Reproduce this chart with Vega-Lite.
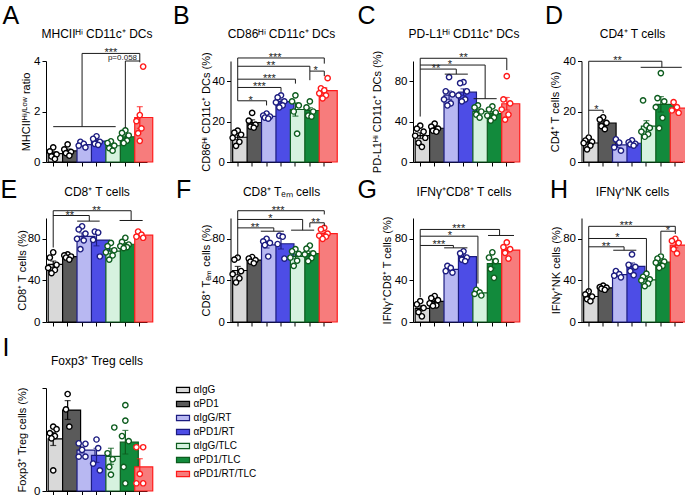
{
"$schema": "https://vega.github.io/schema/vega-lite/v6.json",
"background": "white",
"padding": {"left": 0, "top": 3, "right": 0, "bottom": 0},
"bounds": "flush",
"columns": 4,
"spacing": {"row": 56, "column": 67.5},
"resolve": {"scale": {"fill": "independent", "stroke": "independent", "color": "independent", "xOffset": "independent"}},
"datasets": {
"pts": [
{"p":"A","g":"αIgG","v":0.58,"r":4},{"p":"A","g":"αIgG","v":0.42,"r":2},{"p":"A","g":"αIgG","v":0.30,"r":6},{"p":"A","g":"αIgG","v":0.22,"r":3},{"p":"A","g":"αIgG","v":0.12,"r":5},
{"p":"A","g":"αPD1","v":0.70,"r":4},{"p":"A","g":"αPD1","v":0.50,"r":2},{"p":"A","g":"αPD1","v":0.40,"r":6},{"p":"A","g":"αPD1","v":0.35,"r":3},{"p":"A","g":"αPD1","v":0.25,"r":5},
{"p":"A","g":"αIgG/RT","v":0.80,"r":3},{"p":"A","g":"αIgG/RT","v":0.72,"r":5},{"p":"A","g":"αIgG/RT","v":0.65,"r":2},{"p":"A","g":"αIgG/RT","v":0.58,"r":6},
{"p":"A","g":"αPD1/RT","v":1.02,"r":4},{"p":"A","g":"αPD1/RT","v":0.92,"r":2},{"p":"A","g":"αPD1/RT","v":0.80,"r":6},{"p":"A","g":"αPD1/RT","v":0.72,"r":3},{"p":"A","g":"αPD1/RT","v":0.68,"r":5},
{"p":"A","g":"αIgG/TLC","v":0.82,"r":4},{"p":"A","g":"αIgG/TLC","v":0.75,"r":2},{"p":"A","g":"αIgG/TLC","v":0.65,"r":6},{"p":"A","g":"αIgG/TLC","v":0.55,"r":3},{"p":"A","g":"αIgG/TLC","v":0.45,"r":5},
{"p":"A","g":"αPD1/TLC","v":1.25,"r":4},{"p":"A","g":"αPD1/TLC","v":1.15,"r":2},{"p":"A","g":"αPD1/TLC","v":1.05,"r":6},{"p":"A","g":"αPD1/TLC","v":0.95,"r":1},{"p":"A","g":"αPD1/TLC","v":0.85,"r":5},{"p":"A","g":"αPD1/TLC","v":0.75,"r":3},
{"p":"A","g":"αPD1/RT/TLC","v":3.78,"r":6},{"p":"A","g":"αPD1/RT/TLC","v":1.86,"r":4},{"p":"A","g":"αPD1/RT/TLC","v":1.62,"r":2},{"p":"A","g":"αPD1/RT/TLC","v":1.33,"r":5},{"p":"A","g":"αPD1/RT/TLC","v":1.14,"r":3},{"p":"A","g":"αPD1/RT/TLC","v":0.84,"r":4},
{"p":"B","g":"αIgG","v":15.5,"r":4},{"p":"B","g":"αIgG","v":14.5,"r":2},{"p":"B","g":"αIgG","v":13.5,"r":6},{"p":"B","g":"αIgG","v":12,"r":1},{"p":"B","g":"αIgG","v":10,"r":5},{"p":"B","g":"αIgG","v":8,"r":3},
{"p":"B","g":"αPD1","v":24.3,"r":4},{"p":"B","g":"αPD1","v":20.5,"r":2},{"p":"B","g":"αPD1","v":18.5,"r":6},{"p":"B","g":"αPD1","v":17.5,"r":3},{"p":"B","g":"αPD1","v":17,"r":5},
{"p":"B","g":"αIgG/RT","v":24,"r":4},{"p":"B","g":"αIgG/RT","v":23,"r":2},{"p":"B","g":"αIgG/RT","v":22.5,"r":6},{"p":"B","g":"αIgG/RT","v":22,"r":3},{"p":"B","g":"αIgG/RT","v":21.5,"r":5},
{"p":"B","g":"αPD1/RT","v":33,"r":4},{"p":"B","g":"αPD1/RT","v":32,"r":2},{"p":"B","g":"αPD1/RT","v":30,"r":6},{"p":"B","g":"αPD1/RT","v":29.5,"r":1},{"p":"B","g":"αPD1/RT","v":28,"r":5},{"p":"B","g":"αPD1/RT","v":27,"r":3},
{"p":"B","g":"αIgG/TLC","v":33,"r":4},{"p":"B","g":"αIgG/TLC","v":30,"r":2},{"p":"B","g":"αIgG/TLC","v":28,"r":6},{"p":"B","g":"αIgG/TLC","v":25,"r":3},{"p":"B","g":"αIgG/TLC","v":14,"r":5},
{"p":"B","g":"αPD1/TLC","v":30,"r":4},{"p":"B","g":"αPD1/TLC","v":27,"r":2},{"p":"B","g":"αPD1/TLC","v":25,"r":6},{"p":"B","g":"αPD1/TLC","v":23,"r":3},{"p":"B","g":"αPD1/TLC","v":22.5,"r":5},
{"p":"B","g":"αPD1/RT/TLC","v":41.5,"r":6},{"p":"B","g":"αPD1/RT/TLC","v":36.5,"r":2},{"p":"B","g":"αPD1/RT/TLC","v":35.5,"r":4},{"p":"B","g":"αPD1/RT/TLC","v":34,"r":1},{"p":"B","g":"αPD1/RT/TLC","v":33,"r":5},{"p":"B","g":"αPD1/RT/TLC","v":31.5,"r":3},
{"p":"C","g":"αIgG","v":36,"r":4},{"p":"C","g":"αIgG","v":33,"r":2},{"p":"C","g":"αIgG","v":30,"r":6},{"p":"C","g":"αIgG","v":26,"r":1},{"p":"C","g":"αIgG","v":24,"r":7},{"p":"C","g":"αIgG","v":19,"r":3},{"p":"C","g":"αIgG","v":15,"r":5},
{"p":"C","g":"αPD1","v":38,"r":4},{"p":"C","g":"αPD1","v":35,"r":2},{"p":"C","g":"αPD1","v":33,"r":6},{"p":"C","g":"αPD1","v":31,"r":3},{"p":"C","g":"αPD1","v":30,"r":5},
{"p":"C","g":"αIgG/RT","v":84,"r":4},{"p":"C","g":"αIgG/RT","v":70,"r":2},{"p":"C","g":"αIgG/RT","v":67,"r":6},{"p":"C","g":"αIgG/RT","v":62,"r":1},{"p":"C","g":"αIgG/RT","v":58,"r":5},{"p":"C","g":"αIgG/RT","v":56,"r":3},
{"p":"C","g":"αPD1/RT","v":79,"r":4},{"p":"C","g":"αPD1/RT","v":78,"r":2},{"p":"C","g":"αPD1/RT","v":70,"r":6},{"p":"C","g":"αPD1/RT","v":66,"r":1},{"p":"C","g":"αPD1/RT","v":62,"r":5},{"p":"C","g":"αPD1/RT","v":60,"r":3},
{"p":"C","g":"αIgG/TLC","v":56,"r":4},{"p":"C","g":"αIgG/TLC","v":54,"r":2},{"p":"C","g":"αIgG/TLC","v":50,"r":6},{"p":"C","g":"αIgG/TLC","v":47,"r":3},{"p":"C","g":"αIgG/TLC","v":44,"r":5},
{"p":"C","g":"αPD1/TLC","v":55,"r":4},{"p":"C","g":"αPD1/TLC","v":52,"r":2},{"p":"C","g":"αPD1/TLC","v":49,"r":6},{"p":"C","g":"αPD1/TLC","v":46,"r":1},{"p":"C","g":"αPD1/TLC","v":44,"r":5},{"p":"C","g":"αPD1/TLC","v":41,"r":3},
{"p":"C","g":"αPD1/RT/TLC","v":85,"r":4},{"p":"C","g":"αPD1/RT/TLC","v":62,"r":2},{"p":"C","g":"αPD1/RT/TLC","v":58,"r":6},{"p":"C","g":"αPD1/RT/TLC","v":52,"r":1},{"p":"C","g":"αPD1/RT/TLC","v":47,"r":5},{"p":"C","g":"αPD1/RT/TLC","v":42,"r":3},
{"p":"D","g":"αIgG","v":9.7,"r":4},{"p":"D","g":"αIgG","v":8.5,"r":2},{"p":"D","g":"αIgG","v":8,"r":6},{"p":"D","g":"αIgG","v":7.5,"r":1},{"p":"D","g":"αIgG","v":6.5,"r":5},{"p":"D","g":"αIgG","v":5,"r":3},
{"p":"D","g":"αPD1","v":17.7,"r":4},{"p":"D","g":"αPD1","v":16.8,"r":2},{"p":"D","g":"αPD1","v":15.5,"r":6},{"p":"D","g":"αPD1","v":14.2,"r":3},{"p":"D","g":"αPD1","v":13,"r":5},
{"p":"D","g":"αIgG/RT","v":9,"r":3},{"p":"D","g":"αIgG/RT","v":7.7,"r":5},{"p":"D","g":"αIgG/RT","v":5.8,"r":2},{"p":"D","g":"αIgG/RT","v":4.5,"r":6},
{"p":"D","g":"αPD1/RT","v":8.6,"r":4},{"p":"D","g":"αPD1/RT","v":7.8,"r":2},{"p":"D","g":"αPD1/RT","v":7.2,"r":6},{"p":"D","g":"αPD1/RT","v":7,"r":3},{"p":"D","g":"αPD1/RT","v":6.5,"r":5},
{"p":"D","g":"αIgG/TLC","v":24.4,"r":2},{"p":"D","g":"αIgG/TLC","v":14.5,"r":4},{"p":"D","g":"αIgG/TLC","v":13.5,"r":6},{"p":"D","g":"αIgG/TLC","v":12,"r":1},{"p":"D","g":"αIgG/TLC","v":11,"r":5},{"p":"D","g":"αIgG/TLC","v":10,"r":3},
{"p":"D","g":"αPD1/TLC","v":35.2,"r":4},{"p":"D","g":"αPD1/TLC","v":25.3,"r":2},{"p":"D","g":"αPD1/TLC","v":24,"r":6},{"p":"D","g":"αPD1/TLC","v":21.7,"r":1},{"p":"D","g":"αPD1/TLC","v":17.5,"r":5},{"p":"D","g":"αPD1/TLC","v":13.4,"r":3},
{"p":"D","g":"αPD1/RT/TLC","v":23.7,"r":3},{"p":"D","g":"αPD1/RT/TLC","v":21.7,"r":5},{"p":"D","g":"αPD1/RT/TLC","v":20.4,"r":2},{"p":"D","g":"αPD1/RT/TLC","v":19.5,"r":6},
{"p":"E","g":"αIgG","v":67,"r":4},{"p":"E","g":"αIgG","v":62,"r":2},{"p":"E","g":"αIgG","v":55,"r":6},{"p":"E","g":"αIgG","v":52,"r":1},{"p":"E","g":"αIgG","v":50,"r":5},{"p":"E","g":"αIgG","v":47,"r":3},
{"p":"E","g":"αPD1","v":65,"r":4},{"p":"E","g":"αPD1","v":64,"r":2},{"p":"E","g":"αPD1","v":63,"r":6},{"p":"E","g":"αPD1","v":62,"r":3},{"p":"E","g":"αPD1","v":60,"r":5},
{"p":"E","g":"αIgG/RT","v":92,"r":4},{"p":"E","g":"αIgG/RT","v":89,"r":2},{"p":"E","g":"αIgG/RT","v":85,"r":6},{"p":"E","g":"αIgG/RT","v":80,"r":1},{"p":"E","g":"αIgG/RT","v":78.5,"r":5},{"p":"E","g":"αIgG/RT","v":70,"r":3},
{"p":"E","g":"αPD1/RT","v":87,"r":3},{"p":"E","g":"αPD1/RT","v":86,"r":5},{"p":"E","g":"αPD1/RT","v":79,"r":2},{"p":"E","g":"αPD1/RT","v":63,"r":6},
{"p":"E","g":"αIgG/TLC","v":76,"r":4},{"p":"E","g":"αIgG/TLC","v":73,"r":2},{"p":"E","g":"αIgG/TLC","v":69,"r":6},{"p":"E","g":"αIgG/TLC","v":67,"r":1},{"p":"E","g":"αIgG/TLC","v":64,"r":5},{"p":"E","g":"αIgG/TLC","v":60,"r":3},
{"p":"E","g":"αPD1/TLC","v":81,"r":4},{"p":"E","g":"αPD1/TLC","v":77,"r":2},{"p":"E","g":"αPD1/TLC","v":74.5,"r":6},{"p":"E","g":"αPD1/TLC","v":73,"r":1},{"p":"E","g":"αPD1/TLC","v":72,"r":5},{"p":"E","g":"αPD1/TLC","v":71,"r":3},
{"p":"E","g":"αPD1/RT/TLC","v":87,"r":3},{"p":"E","g":"αPD1/RT/TLC","v":84,"r":5},{"p":"E","g":"αPD1/RT/TLC","v":82,"r":2},{"p":"E","g":"αPD1/RT/TLC","v":81,"r":6},
{"p":"F","g":"αIgG","v":62,"r":4},{"p":"F","g":"αIgG","v":60,"r":2},{"p":"F","g":"αIgG","v":49,"r":6},{"p":"F","g":"αIgG","v":46,"r":1},{"p":"F","g":"αIgG","v":42,"r":5},{"p":"F","g":"αIgG","v":38,"r":3},
{"p":"F","g":"αPD1","v":62.5,"r":4},{"p":"F","g":"αPD1","v":61,"r":2},{"p":"F","g":"αPD1","v":59.5,"r":6},{"p":"F","g":"αPD1","v":58,"r":3},{"p":"F","g":"αPD1","v":56.5,"r":5},
{"p":"F","g":"αIgG/RT","v":80,"r":4},{"p":"F","g":"αIgG/RT","v":77.5,"r":2},{"p":"F","g":"αIgG/RT","v":76,"r":6},{"p":"F","g":"αIgG/RT","v":74,"r":3},{"p":"F","g":"αIgG/RT","v":63,"r":5},
{"p":"F","g":"αPD1/RT","v":83,"r":3},{"p":"F","g":"αPD1/RT","v":82,"r":5},{"p":"F","g":"αPD1/RT","v":75,"r":2},{"p":"F","g":"αPD1/RT","v":61,"r":6},
{"p":"F","g":"αIgG/TLC","v":70,"r":4},{"p":"F","g":"αIgG/TLC","v":68,"r":2},{"p":"F","g":"αIgG/TLC","v":65.5,"r":6},{"p":"F","g":"αIgG/TLC","v":62,"r":1},{"p":"F","g":"αIgG/TLC","v":59,"r":5},{"p":"F","g":"αIgG/TLC","v":54,"r":3},
{"p":"F","g":"αPD1/TLC","v":73.5,"r":4},{"p":"F","g":"αPD1/TLC","v":70.5,"r":2},{"p":"F","g":"αPD1/TLC","v":66,"r":6},{"p":"F","g":"αPD1/TLC","v":65,"r":1},{"p":"F","g":"αPD1/TLC","v":61.5,"r":5},{"p":"F","g":"αPD1/TLC","v":58.5,"r":3},
{"p":"F","g":"αPD1/RT/TLC","v":90.5,"r":4},{"p":"F","g":"αPD1/RT/TLC","v":89,"r":2},{"p":"F","g":"αPD1/RT/TLC","v":85,"r":6},{"p":"F","g":"αPD1/RT/TLC","v":83,"r":1},{"p":"F","g":"αPD1/RT/TLC","v":82,"r":5},{"p":"F","g":"αPD1/RT/TLC","v":80,"r":3},
{"p":"G","g":"αIgG","v":20,"r":4},{"p":"G","g":"αIgG","v":17,"r":2},{"p":"G","g":"αIgG","v":13.5,"r":6},{"p":"G","g":"αIgG","v":9.5,"r":3},{"p":"G","g":"αIgG","v":5.5,"r":5},
{"p":"G","g":"αPD1","v":25,"r":4},{"p":"G","g":"αPD1","v":23,"r":2},{"p":"G","g":"αPD1","v":21,"r":6},{"p":"G","g":"αPD1","v":18,"r":1},{"p":"G","g":"αPD1","v":16,"r":5},{"p":"G","g":"αPD1","v":15.5,"r":3},
{"p":"G","g":"αIgG/RT","v":54,"r":3},{"p":"G","g":"αIgG/RT","v":52,"r":5},{"p":"G","g":"αIgG/RT","v":49,"r":2},{"p":"G","g":"αIgG/RT","v":47.5,"r":6},
{"p":"G","g":"αPD1/RT","v":68,"r":4},{"p":"G","g":"αPD1/RT","v":66,"r":2},{"p":"G","g":"αPD1/RT","v":62,"r":6},{"p":"G","g":"αPD1/RT","v":60,"r":3},{"p":"G","g":"αPD1/RT","v":58.5,"r":5},
{"p":"G","g":"αIgG/TLC","v":31,"r":3},{"p":"G","g":"αIgG/TLC","v":28.5,"r":5},{"p":"G","g":"αIgG/TLC","v":27,"r":2},{"p":"G","g":"αIgG/TLC","v":25.5,"r":6},
{"p":"G","g":"αPD1/TLC","v":67,"r":4},{"p":"G","g":"αPD1/TLC","v":62,"r":2},{"p":"G","g":"αPD1/TLC","v":58.5,"r":6},{"p":"G","g":"αPD1/TLC","v":51,"r":3},{"p":"G","g":"αPD1/TLC","v":42.5,"r":5},
{"p":"G","g":"αPD1/RT/TLC","v":76.5,"r":4},{"p":"G","g":"αPD1/RT/TLC","v":72,"r":2},{"p":"G","g":"αPD1/RT/TLC","v":70,"r":6},{"p":"G","g":"αPD1/RT/TLC","v":66.5,"r":3},{"p":"G","g":"αPD1/RT/TLC","v":61,"r":5},
{"p":"H","g":"αIgG","v":29.5,"r":4},{"p":"H","g":"αIgG","v":26.5,"r":2},{"p":"H","g":"αIgG","v":24.5,"r":6},{"p":"H","g":"αIgG","v":22,"r":3},{"p":"H","g":"αIgG","v":20,"r":5},
{"p":"H","g":"αPD1","v":35,"r":4},{"p":"H","g":"αPD1","v":33.5,"r":2},{"p":"H","g":"αPD1","v":33,"r":6},{"p":"H","g":"αPD1","v":32,"r":3},{"p":"H","g":"αPD1","v":31,"r":5},
{"p":"H","g":"αIgG/RT","v":49,"r":3},{"p":"H","g":"αIgG/RT","v":46,"r":5},{"p":"H","g":"αIgG/RT","v":44.5,"r":2},{"p":"H","g":"αIgG/RT","v":43,"r":6},
{"p":"H","g":"αPD1/RT","v":65,"r":4},{"p":"H","g":"αPD1/RT","v":55,"r":2},{"p":"H","g":"αPD1/RT","v":53,"r":6},{"p":"H","g":"αPD1/RT","v":49,"r":3},{"p":"H","g":"αPD1/RT","v":45,"r":5},
{"p":"H","g":"αIgG/TLC","v":46.5,"r":4},{"p":"H","g":"αIgG/TLC","v":43.5,"r":2},{"p":"H","g":"αIgG/TLC","v":41,"r":6},{"p":"H","g":"αIgG/TLC","v":40,"r":1},{"p":"H","g":"αIgG/TLC","v":37,"r":5},{"p":"H","g":"αIgG/TLC","v":34.5,"r":3},
{"p":"H","g":"αPD1/TLC","v":63,"r":4},{"p":"H","g":"αPD1/TLC","v":61,"r":2},{"p":"H","g":"αPD1/TLC","v":58,"r":6},{"p":"H","g":"αPD1/TLC","v":57,"r":1},{"p":"H","g":"αPD1/TLC","v":54,"r":5},{"p":"H","g":"αPD1/TLC","v":52,"r":3},
{"p":"H","g":"αPD1/RT/TLC","v":80,"r":4},{"p":"H","g":"αPD1/RT/TLC","v":78,"r":2},{"p":"H","g":"αPD1/RT/TLC","v":76,"r":6},{"p":"H","g":"αPD1/RT/TLC","v":70,"r":3},{"p":"H","g":"αPD1/RT/TLC","v":66,"r":5},
{"p":"I","g":"αIgG","v":3.75,"r":4},{"p":"I","g":"αIgG","v":3.6,"r":6},{"p":"I","g":"αIgG","v":3.37,"r":2},{"p":"I","g":"αIgG","v":3.2,"r":5},{"p":"I","g":"αIgG","v":3.07,"r":3},{"p":"I","g":"αIgG","v":1.2,"r":4},
{"p":"I","g":"αPD1","v":5.65,"r":4},{"p":"I","g":"αPD1","v":4.75,"r":3},{"p":"I","g":"αPD1","v":3.75,"r":5},
{"p":"I","g":"αIgG/RT","v":2.78,"r":2},{"p":"I","g":"αIgG/RT","v":2.75,"r":6},{"p":"I","g":"αIgG/RT","v":2.4,"r":4},{"p":"I","g":"αIgG/RT","v":2.0,"r":2},{"p":"I","g":"αIgG/RT","v":2.0,"r":6},
{"p":"I","g":"αPD1/RT","v":3.0,"r":4},{"p":"I","g":"αPD1/RT","v":2.5,"r":5},{"p":"I","g":"αPD1/RT","v":1.6,"r":2},{"p":"I","g":"αPD1/RT","v":1.2,"r":6},
{"p":"I","g":"αIgG/TLC","v":3.7,"r":6},{"p":"I","g":"αIgG/TLC","v":2.2,"r":2},{"p":"I","g":"αIgG/TLC","v":1.85,"r":5},{"p":"I","g":"αIgG/TLC","v":1.4,"r":3},{"p":"I","g":"αIgG/TLC","v":0.95,"r":4},
{"p":"I","g":"αPD1/TLC","v":5.0,"r":4},{"p":"I","g":"αPD1/TLC","v":4.1,"r":4},{"p":"I","g":"αPD1/TLC","v":3.2,"r":2},{"p":"I","g":"αPD1/TLC","v":2.9,"r":6},{"p":"I","g":"αPD1/TLC","v":1.4,"r":3},{"p":"I","g":"αPD1/TLC","v":0.45,"r":4},
{"p":"I","g":"αPD1/RT/TLC","v":2.55,"r":2},{"p":"I","g":"αPD1/RT/TLC","v":2.55,"r":6},{"p":"I","g":"αPD1/RT/TLC","v":1.0,"r":4},{"p":"I","g":"αPD1/RT/TLC","v":0.45,"r":2},{"p":"I","g":"αPD1/RT/TLC","v":0.45,"r":6}
],
"brk": [
{"p":"A","x1":1,"x2":5.33,"y1":1.4,"y2":1.4},{"p":"A","x1":3,"x2":3,"y1":1.4,"y2":4.3},{"p":"A","x1":3,"x2":7,"y1":4.3,"y2":4.3},{"p":"A","x1":7,"x2":7,"y1":4.3,"y2":3.95},{"p":"A","x1":6,"x2":7,"y1":4.0,"y2":4.0},{"p":"A","x1":6,"x2":6,"y1":4.0,"y2":1.35},
{"p":"B","x1":1,"x2":7,"y1":51.5,"y2":51.5},{"p":"B","x1":7,"x2":7,"y1":51.5,"y2":48.7},{"p":"B","x1":1,"x2":6,"y1":47.4,"y2":47.4},{"p":"B","x1":6,"x2":6,"y1":47.4,"y2":45},{"p":"B","x1":6,"x2":7,"y1":45,"y2":45},{"p":"B","x1":6,"x2":6,"y1":45,"y2":40.5},{"p":"B","x1":7,"x2":7,"y1":45,"y2":42.5},{"p":"B","x1":1,"x2":5,"y1":41,"y2":41},{"p":"B","x1":5,"x2":5,"y1":41,"y2":38.8},{"p":"B","x1":1,"x2":4,"y1":36.9,"y2":36.9},{"p":"B","x1":4,"x2":4,"y1":36.9,"y2":34.7},{"p":"B","x1":1,"x2":3,"y1":30.3,"y2":30.3},{"p":"B","x1":3,"x2":3,"y1":30.3,"y2":28},{"p":"B","x1":1,"x2":1,"y1":51.5,"y2":30.3},
{"p":"C","x1":1,"x2":7,"y1":102.7,"y2":102.7},{"p":"C","x1":7,"x2":7,"y1":102.7,"y2":91},{"p":"C","x1":1,"x2":5.5,"y1":96,"y2":96},{"p":"C","x1":5.5,"x2":5.5,"y1":96,"y2":62.7},{"p":"C","x1":4.7,"x2":6.3,"y1":62.7,"y2":62.7},{"p":"C","x1":1,"x2":3.5,"y1":92,"y2":92},{"p":"C","x1":3.5,"x2":3.5,"y1":92,"y2":87},{"p":"C","x1":2.7,"x2":4.3,"y1":87,"y2":87},{"p":"C","x1":1,"x2":1,"y1":102.7,"y2":45},
{"p":"D","x1":1,"x2":6.07,"y1":39.9,"y2":39.9},{"p":"D","x1":6.07,"x2":6.07,"y1":39.9,"y2":37.5},{"p":"D","x1":4.6,"x2":7.45,"y1":37.5,"y2":37.5},{"p":"D","x1":1,"x2":2,"y1":20.5,"y2":20.5},{"p":"D","x1":2,"x2":2,"y1":20.5,"y2":19.4},{"p":"D","x1":1,"x2":1,"y1":39.9,"y2":11},
{"p":"E","x1":1,"x2":6.4,"y1":107,"y2":107},{"p":"E","x1":6.4,"x2":6.4,"y1":107,"y2":97.6},{"p":"E","x1":5.6,"x2":7.2,"y1":97.6,"y2":97.6},{"p":"E","x1":1,"x2":3.5,"y1":102.4,"y2":102.4},{"p":"E","x1":3.5,"x2":3.5,"y1":102.4,"y2":97},{"p":"E","x1":2.66,"x2":4.22,"y1":97,"y2":97},{"p":"E","x1":1,"x2":1,"y1":107,"y2":71.6},
{"p":"F","x1":1,"x2":7,"y1":107,"y2":107},{"p":"F","x1":7,"x2":7,"y1":107,"y2":103.4},{"p":"F","x1":1,"x2":5.5,"y1":98.6,"y2":98.6},{"p":"F","x1":5.5,"x2":5.5,"y1":98.6,"y2":88.3},{"p":"F","x1":4.7,"x2":6.3,"y1":88.3,"y2":88.3},{"p":"F","x1":6,"x2":7,"y1":95.4,"y2":95.4},{"p":"F","x1":6,"x2":6,"y1":95.4,"y2":91},{"p":"F","x1":7,"x2":7,"y1":95.4,"y2":92},{"p":"F","x1":1,"x2":3.5,"y1":90.5,"y2":90.5},{"p":"F","x1":3.5,"x2":3.5,"y1":90.5,"y2":87.3},{"p":"F","x1":2.6,"x2":4.2,"y1":87.3,"y2":87.3},{"p":"F","x1":1,"x2":1,"y1":107,"y2":63},
{"p":"G","x1":1,"x2":6.5,"y1":89,"y2":89},{"p":"G","x1":6.5,"x2":6.5,"y1":89,"y2":83.2},{"p":"G","x1":5.7,"x2":7.5,"y1":83.2,"y2":83.2},{"p":"G","x1":1,"x2":5,"y1":82.5,"y2":82.5},{"p":"G","x1":5,"x2":5,"y1":82.5,"y2":37},{"p":"G","x1":1,"x2":3.3,"y1":73.6,"y2":73.6},{"p":"G","x1":3.3,"x2":3.3,"y1":73.6,"y2":71.3},{"p":"G","x1":2.66,"x2":4.27,"y1":71.3,"y2":71.3},{"p":"G","x1":1,"x2":1,"y1":89,"y2":24},
{"p":"H","x1":1,"x2":7,"y1":92,"y2":92},{"p":"H","x1":7,"x2":7,"y1":92,"y2":87.3},{"p":"H","x1":6,"x2":7,"y1":87.3,"y2":87.3},{"p":"H","x1":6,"x2":6,"y1":87.3,"y2":66},{"p":"H","x1":7,"x2":7,"y1":87.3,"y2":84.7},{"p":"H","x1":1,"x2":5,"y1":80.3,"y2":80.3},{"p":"H","x1":5,"x2":5,"y1":80.3,"y2":48.8},{"p":"H","x1":1,"x2":3.45,"y1":72.3,"y2":72.3},{"p":"H","x1":3.45,"x2":3.45,"y1":72.3,"y2":69},{"p":"H","x1":2.7,"x2":4.3,"y1":69,"y2":69},{"p":"H","x1":1,"x2":1,"y1":92,"y2":29}
],
"txt": [
{"p":"A","x":5,"y":4.3,"t":"***"},
{"p":"B","x":3.6,"y":51.5,"t":"***"},{"p":"B","x":3.3,"y":47.4,"t":"**"},{"p":"B","x":3.2,"y":41,"t":"***"},{"p":"B","x":2.5,"y":36.9,"t":"***"},{"p":"B","x":1.9,"y":30.3,"t":"*"},{"p":"B","x":6.4,"y":45,"t":"*"},
{"p":"C","x":4.0,"y":102.7,"t":"**"},{"p":"C","x":3.05,"y":96,"t":"*"},{"p":"C","x":2.1,"y":92,"t":"**"},
{"p":"D","x":3.0,"y":39.9,"t":"**"},{"p":"D","x":1.53,"y":20.5,"t":"*"},
{"p":"E","x":4.0,"y":107,"t":"**"},{"p":"E","x":2.15,"y":102.4,"t":"**"},
{"p":"F","x":3.8,"y":107,"t":"***"},{"p":"F","x":3.26,"y":98.6,"t":"*"},{"p":"F","x":2.2,"y":90.5,"t":"**"},{"p":"F","x":6.4,"y":95.4,"t":"**"},
{"p":"G","x":3.67,"y":89,"t":"***"},{"p":"G","x":3.05,"y":82.5,"t":"*"},{"p":"G","x":2.3,"y":73.6,"t":"***"},
{"p":"H","x":3.6,"y":92,"t":"***"},{"p":"H","x":2.98,"y":80.3,"t":"*"},{"p":"H","x":2.2,"y":72.3,"t":"**"},{"p":"H","x":6.48,"y":87.3,"t":"*"}
],
"pval": [{"p":"A","x":5.8,"y":4.05,"t":"p=0.058"}]
},
"concat": [
{"width": 116.5, "height": 101, "resolve": {"scale": {"x": "independent", "y": "independent"}},
 "layer": [
  {"data": {"name": "pts"}, "transform": [{"filter": "datum.p === 'A'"}],
   "layer": [
    {"mark": {"type": "bar", "strokeWidth": 1.2},
     "encoding": {
      "x": {"field": "g", "type": "nominal", "scale": {"domain": ["αIgG","αPD1","αIgG/RT","αPD1/RT","αIgG/TLC","αPD1/TLC","αPD1/RT/TLC"], "range": [0, 101], "paddingInner": 0.3, "paddingOuter": 0.15}, "axis": {"labels": false, "title": null}},
      "y": {"aggregate": "mean", "field": "v", "type": "quantitative", "title": "MHCIIᴴⁱ/ᴸᵒʷ ratio", "scale": {"domain": [0, 4], "nice": false}, "axis": {"values": [0,1,2,3,4], "labelExpr": "datum.value % 2 === 0 ? datum.label : ''", "title": "MHCIIᴴⁱ/ᴸᵒʷ ratio", "titlePadding": 2.6}},
      "fill": {"field": "g", "type": "nominal", "scale": {"domain": ["αIgG","αPD1","αIgG/RT","αPD1/RT","αIgG/TLC","αPD1/TLC","αPD1/RT/TLC"], "range": ["#d9d9d9","#5a5a5a","#b8b8f2","#4d4de6","#d6f2df","#128a3c","#f77c7c"]}, "legend": null},
      "stroke": {"field": "g", "type": "nominal", "scale": {"domain": ["αIgG","αPD1","αIgG/RT","αPD1/RT","αIgG/TLC","αPD1/TLC","αPD1/RT/TLC"], "range": ["#000000","#000000","#1c1c80","#1c1c80","#0d5c1e","#0d5c1e","#ff1a1a"]}, "legend": null}
     }},
    {"mark": {"type": "errorbar", "extent": "stderr", "ticks": true, "size": 6, "thickness": 1.2},
     "encoding": {"x": {"field": "g", "type": "nominal"}, "y": {"field": "v", "type": "quantitative", "title": "MHCIIᴴⁱ/ᴸᵒʷ ratio"},
      "color": {"field": "g", "type": "nominal", "scale": {"domain": ["αIgG","αPD1","αIgG/RT","αPD1/RT","αIgG/TLC","αPD1/TLC","αPD1/RT/TLC"], "range": ["#000000","#000000","#1c1c80","#1c1c80","#0d5c1e","#0d5c1e","#ff1a1a"]}, "legend": null}}},
    {"mark": {"type": "point", "filled": true, "fill": "white", "size": 28, "strokeWidth": 1.4, "opacity": 1},
     "encoding": {"x": {"field": "g", "type": "nominal"}, "xOffset": {"field": "r", "type": "nominal", "scale": {"domain": [1,2,3,4,5,6,7], "paddingInner": 0, "paddingOuter": 0}}, "y": {"field": "v", "type": "quantitative", "title": "MHCIIᴴⁱ/ᴸᵒʷ ratio"}, "stroke": {"field": "g", "type": "nominal", "legend": null}}}
   ]},
  {"layer": [
    {"data": {"name": "brk"}, "transform": [{"filter": "datum.p === 'A'"}],
     "mark": {"type": "rule", "color": "#1a1a1a", "strokeWidth": 1},
     "encoding": {
      "x": {"field": "x1", "type": "quantitative", "scale": {"domain": [0.5, 7.5], "range": [0, 101], "nice": false, "zero": false}, "axis": {"orient": "top", "domain": false, "ticks": false, "labels": false, "grid": false, "title": "MHCIIᴴⁱ CD11c⁺ DCs", "titleY": -24, "titleBaseline": "alphabetic", "titleFontSize": 12}},
      "x2": {"field": "x2"},
      "y": {"field": "y1", "type": "quantitative", "scale": {"domain": [0, 4], "nice": false, "zero": false}, "axis": {"orient": "right", "domain": false, "ticks": false, "labels": false, "grid": false, "title": "A", "titleAngle": 0, "titleX": -160.5, "titleY": -38, "titleAlign": "left", "titleBaseline": "alphabetic", "titleFontSize": 25}},
      "y2": {"field": "y2"}}},
    {"data": {"name": "txt"}, "transform": [{"filter": "datum.p === 'A'"}],
     "mark": {"type": "text", "fontSize": 11, "dy": 3, "baseline": "alphabetic", "align": "center", "color": "#1a1a1a"},
     "encoding": {"x": {"field": "x", "type": "quantitative"}, "y": {"field": "y", "type": "quantitative"}, "text": {"field": "t"}}},
    {"data": {"name": "pval"},
     "mark": {"type": "text", "fontSize": 8, "baseline": "alphabetic", "align": "center", "color": "#1a1a1a"},
     "encoding": {"x": {"field": "x", "type": "quantitative"}, "y": {"field": "y", "type": "quantitative"}, "text": {"field": "t"}}}
  ]}
 ]},
{"width": 114.5, "height": 101, "resolve": {"scale": {"x": "independent", "y": "independent"}},
 "layer": [
  {"data": {"name": "pts"}, "transform": [{"filter": "datum.p === 'B'"}],
   "layer": [
    {"mark": {"type": "bar", "strokeWidth": 1.2},
     "encoding": {
      "x": {"field": "g", "type": "nominal", "scale": {"domain": ["αIgG","αPD1","αIgG/RT","αPD1/RT","αIgG/TLC","αPD1/TLC","αPD1/RT/TLC"], "range": [0, 101], "paddingInner": 0.3, "paddingOuter": 0.15}, "axis": {"labels": false, "title": null}},
      "y": {"aggregate": "mean", "field": "v", "type": "quantitative", "title": "CD86ᴴⁱ CD11c⁺ DCs (%)", "scale": {"domain": [0, 50], "nice": false}, "axis": {"values": [0,10,20,30,40,50], "labelExpr": "datum.value % 20 === 0 ? datum.label : ''", "title": "CD86ᴴⁱ CD11c⁺ DCs (%)", "titlePadding": 0}},
      "fill": {"field": "g", "type": "nominal", "scale": {"domain": ["αIgG","αPD1","αIgG/RT","αPD1/RT","αIgG/TLC","αPD1/TLC","αPD1/RT/TLC"], "range": ["#d9d9d9","#5a5a5a","#b8b8f2","#4d4de6","#d6f2df","#128a3c","#f77c7c"]}, "legend": null},
      "stroke": {"field": "g", "type": "nominal", "scale": {"domain": ["αIgG","αPD1","αIgG/RT","αPD1/RT","αIgG/TLC","αPD1/TLC","αPD1/RT/TLC"], "range": ["#000000","#000000","#1c1c80","#1c1c80","#0d5c1e","#0d5c1e","#ff1a1a"]}, "legend": null}
     }},
    {"mark": {"type": "errorbar", "extent": "stderr", "ticks": true, "size": 6, "thickness": 1.2},
     "encoding": {"x": {"field": "g", "type": "nominal"}, "y": {"field": "v", "type": "quantitative", "title": "CD86ᴴⁱ CD11c⁺ DCs (%)"},
      "color": {"field": "g", "type": "nominal", "scale": {"domain": ["αIgG","αPD1","αIgG/RT","αPD1/RT","αIgG/TLC","αPD1/TLC","αPD1/RT/TLC"], "range": ["#000000","#000000","#1c1c80","#1c1c80","#0d5c1e","#0d5c1e","#ff1a1a"]}, "legend": null}}},
    {"mark": {"type": "point", "filled": true, "fill": "white", "size": 28, "strokeWidth": 1.4, "opacity": 1},
     "encoding": {"x": {"field": "g", "type": "nominal"}, "xOffset": {"field": "r", "type": "nominal", "scale": {"domain": [1,2,3,4,5,6,7], "paddingInner": 0, "paddingOuter": 0}}, "y": {"field": "v", "type": "quantitative", "title": "CD86ᴴⁱ CD11c⁺ DCs (%)"}, "stroke": {"field": "g", "type": "nominal", "legend": null}}}
   ]},
  {"layer": [
    {"data": {"name": "brk"}, "transform": [{"filter": "datum.p === 'B'"}],
     "mark": {"type": "rule", "color": "#1a1a1a", "strokeWidth": 1},
     "encoding": {
      "x": {"field": "x1", "type": "quantitative", "scale": {"domain": [0.5, 7.5], "range": [0, 101], "nice": false, "zero": false}, "axis": {"orient": "top", "domain": false, "ticks": false, "labels": false, "grid": false, "title": "CD86ᴴⁱ CD11c⁺ DCs", "titleY": -24, "titleBaseline": "alphabetic", "titleFontSize": 12}},
      "x2": {"field": "x2"},
      "y": {"field": "y1", "type": "quantitative", "scale": {"domain": [0, 50], "nice": false, "zero": false}, "axis": {"orient": "right", "domain": false, "ticks": false, "labels": false, "grid": false, "title": "B", "titleAngle": 0, "titleX": -172.5, "titleY": -38, "titleAlign": "left", "titleBaseline": "alphabetic", "titleFontSize": 25}},
      "y2": {"field": "y2"}}},
    {"data": {"name": "txt"}, "transform": [{"filter": "datum.p === 'B'"}],
     "mark": {"type": "text", "fontSize": 11, "dy": 3, "baseline": "alphabetic", "align": "center", "color": "#1a1a1a"},
     "encoding": {"x": {"field": "x", "type": "quantitative"}, "y": {"field": "y", "type": "quantitative"}, "text": {"field": "t"}}}
  ]}
 ]},
{"width": 101, "height": 101, "resolve": {"scale": {"x": "independent", "y": "independent"}},
 "layer": [
  {"data": {"name": "pts"}, "transform": [{"filter": "datum.p === 'C'"}],
   "layer": [
    {"mark": {"type": "bar", "strokeWidth": 1.2},
     "encoding": {
      "x": {"field": "g", "type": "nominal", "scale": {"domain": ["αIgG","αPD1","αIgG/RT","αPD1/RT","αIgG/TLC","αPD1/TLC","αPD1/RT/TLC"], "paddingInner": 0.3, "paddingOuter": 0.15}, "axis": {"labels": false, "title": null}},
      "y": {"aggregate": "mean", "field": "v", "type": "quantitative", "title": "PD-L1ᴴⁱ CD11c⁺ DCs (%)", "scale": {"domain": [0, 100], "nice": false}, "axis": {"values": [0,20,40,60,80,100], "labelExpr": "datum.value % 40 === 0 ? datum.label : ''", "title": "PD-L1ᴴⁱ CD11c⁺ DCs (%)", "titlePadding": 12}},
      "fill": {"field": "g", "type": "nominal", "scale": {"domain": ["αIgG","αPD1","αIgG/RT","αPD1/RT","αIgG/TLC","αPD1/TLC","αPD1/RT/TLC"], "range": ["#d9d9d9","#5a5a5a","#b8b8f2","#4d4de6","#d6f2df","#128a3c","#f77c7c"]}, "legend": null},
      "stroke": {"field": "g", "type": "nominal", "scale": {"domain": ["αIgG","αPD1","αIgG/RT","αPD1/RT","αIgG/TLC","αPD1/TLC","αPD1/RT/TLC"], "range": ["#000000","#000000","#1c1c80","#1c1c80","#0d5c1e","#0d5c1e","#ff1a1a"]}, "legend": null}
     }},
    {"mark": {"type": "errorbar", "extent": "stderr", "ticks": true, "size": 6, "thickness": 1.2},
     "encoding": {"x": {"field": "g", "type": "nominal"}, "y": {"field": "v", "type": "quantitative", "title": "PD-L1ᴴⁱ CD11c⁺ DCs (%)"},
      "color": {"field": "g", "type": "nominal", "scale": {"domain": ["αIgG","αPD1","αIgG/RT","αPD1/RT","αIgG/TLC","αPD1/TLC","αPD1/RT/TLC"], "range": ["#000000","#000000","#1c1c80","#1c1c80","#0d5c1e","#0d5c1e","#ff1a1a"]}, "legend": null}}},
    {"mark": {"type": "point", "filled": true, "fill": "white", "size": 28, "strokeWidth": 1.4, "opacity": 1},
     "encoding": {"x": {"field": "g", "type": "nominal"}, "xOffset": {"field": "r", "type": "nominal", "scale": {"domain": [1,2,3,4,5,6,7], "paddingInner": 0, "paddingOuter": 0}}, "y": {"field": "v", "type": "quantitative", "title": "PD-L1ᴴⁱ CD11c⁺ DCs (%)"}, "stroke": {"field": "g", "type": "nominal", "legend": null}}}
   ]},
  {"layer": [
    {"data": {"name": "brk"}, "transform": [{"filter": "datum.p === 'C'"}],
     "mark": {"type": "rule", "color": "#1a1a1a", "strokeWidth": 1},
     "encoding": {
      "x": {"field": "x1", "type": "quantitative", "scale": {"domain": [0.5, 7.5], "nice": false, "zero": false}, "axis": {"orient": "top", "domain": false, "ticks": false, "labels": false, "grid": false, "title": "PD-L1ᴴⁱ CD11c⁺ DCs", "titleY": -24, "titleBaseline": "alphabetic", "titleFontSize": 12}},
      "x2": {"field": "x2"},
      "y": {"field": "y1", "type": "quantitative", "scale": {"domain": [0, 100], "nice": false, "zero": false}, "axis": {"orient": "right", "domain": false, "ticks": false, "labels": false, "grid": false, "title": "C", "titleAngle": 0, "titleX": -157, "titleY": -38, "titleAlign": "left", "titleBaseline": "alphabetic", "titleFontSize": 25}},
      "y2": {"field": "y2"}}},
    {"data": {"name": "txt"}, "transform": [{"filter": "datum.p === 'C'"}],
     "mark": {"type": "text", "fontSize": 11, "dy": 3, "baseline": "alphabetic", "align": "center", "color": "#1a1a1a"},
     "encoding": {"x": {"field": "x", "type": "quantitative"}, "y": {"field": "y", "type": "quantitative"}, "text": {"field": "t"}}}
  ]}
 ]},
{"width": 101, "height": 101, "resolve": {"scale": {"x": "independent", "y": "independent"}},
 "layer": [
  {"data": {"name": "pts"}, "transform": [{"filter": "datum.p === 'D'"}],
   "layer": [
    {"mark": {"type": "bar", "strokeWidth": 1.2},
     "encoding": {
      "x": {"field": "g", "type": "nominal", "scale": {"domain": ["αIgG","αPD1","αIgG/RT","αPD1/RT","αIgG/TLC","αPD1/TLC","αPD1/RT/TLC"], "paddingInner": 0.3, "paddingOuter": 0.15}, "axis": {"labels": false, "title": null}},
      "y": {"aggregate": "mean", "field": "v", "type": "quantitative", "title": "CD4⁺ T cells (%)", "scale": {"domain": [0, 40], "nice": false}, "axis": {"values": [0,10,20,30,40], "labelExpr": "datum.value % 20 === 0 ? datum.label : ''", "title": "CD4⁺ T cells (%)", "titlePadding": 2.7}},
      "fill": {"field": "g", "type": "nominal", "scale": {"domain": ["αIgG","αPD1","αIgG/RT","αPD1/RT","αIgG/TLC","αPD1/TLC","αPD1/RT/TLC"], "range": ["#d9d9d9","#5a5a5a","#b8b8f2","#4d4de6","#d6f2df","#128a3c","#f77c7c"]}, "legend": null},
      "stroke": {"field": "g", "type": "nominal", "scale": {"domain": ["αIgG","αPD1","αIgG/RT","αPD1/RT","αIgG/TLC","αPD1/TLC","αPD1/RT/TLC"], "range": ["#000000","#000000","#1c1c80","#1c1c80","#0d5c1e","#0d5c1e","#ff1a1a"]}, "legend": null}
     }},
    {"mark": {"type": "errorbar", "extent": "stderr", "ticks": true, "size": 6, "thickness": 1.2},
     "encoding": {"x": {"field": "g", "type": "nominal"}, "y": {"field": "v", "type": "quantitative", "title": "CD4⁺ T cells (%)"},
      "color": {"field": "g", "type": "nominal", "scale": {"domain": ["αIgG","αPD1","αIgG/RT","αPD1/RT","αIgG/TLC","αPD1/TLC","αPD1/RT/TLC"], "range": ["#000000","#000000","#1c1c80","#1c1c80","#0d5c1e","#0d5c1e","#ff1a1a"]}, "legend": null}}},
    {"mark": {"type": "point", "filled": true, "fill": "white", "size": 28, "strokeWidth": 1.4, "opacity": 1},
     "encoding": {"x": {"field": "g", "type": "nominal"}, "xOffset": {"field": "r", "type": "nominal", "scale": {"domain": [1,2,3,4,5,6,7], "paddingInner": 0, "paddingOuter": 0}}, "y": {"field": "v", "type": "quantitative", "title": "CD4⁺ T cells (%)"}, "stroke": {"field": "g", "type": "nominal", "legend": null}}}
   ]},
  {"layer": [
    {"data": {"name": "brk"}, "transform": [{"filter": "datum.p === 'D'"}],
     "mark": {"type": "rule", "color": "#1a1a1a", "strokeWidth": 1},
     "encoding": {
      "x": {"field": "x1", "type": "quantitative", "scale": {"domain": [0.5, 7.5], "nice": false, "zero": false}, "axis": {"orient": "top", "domain": false, "ticks": false, "labels": false, "grid": false, "title": "CD4⁺ T cells", "titleY": -24, "titleBaseline": "alphabetic", "titleFontSize": 12}},
      "x2": {"field": "x2"},
      "y": {"field": "y1", "type": "quantitative", "scale": {"domain": [0, 40], "nice": false, "zero": false}, "axis": {"orient": "right", "domain": false, "ticks": false, "labels": false, "grid": false, "title": "D", "titleAngle": 0, "titleX": -138, "titleY": -38, "titleAlign": "left", "titleBaseline": "alphabetic", "titleFontSize": 25}},
      "y2": {"field": "y2"}}},
    {"data": {"name": "txt"}, "transform": [{"filter": "datum.p === 'D'"}],
     "mark": {"type": "text", "fontSize": 11, "dy": 3, "baseline": "alphabetic", "align": "center", "color": "#1a1a1a"},
     "encoding": {"x": {"field": "x", "type": "quantitative"}, "y": {"field": "y", "type": "quantitative"}, "text": {"field": "t"}}}
  ]}
 ]},
{"width": 116.5, "height": 104, "resolve": {"scale": {"x": "independent", "y": "independent"}},
 "layer": [
  {"data": {"name": "pts"}, "transform": [{"filter": "datum.p === 'E'"}],
   "layer": [
    {"mark": {"type": "bar", "strokeWidth": 1.2},
     "encoding": {
      "x": {"field": "g", "type": "nominal", "scale": {"domain": ["αIgG","αPD1","αIgG/RT","αPD1/RT","αIgG/TLC","αPD1/TLC","αPD1/RT/TLC"], "range": [0, 101], "paddingInner": 0.3, "paddingOuter": 0.15}, "axis": {"labels": false, "title": null}},
      "y": {"aggregate": "mean", "field": "v", "type": "quantitative", "title": "CD8⁺ T cells (%)", "scale": {"domain": [0, 100], "nice": false}, "axis": {"values": [0,20,40,60,80,100], "labelExpr": "datum.value % 40 === 0 ? datum.label : ''", "title": "CD8⁺ T cells (%)", "titlePadding": 0}},
      "fill": {"field": "g", "type": "nominal", "scale": {"domain": ["αIgG","αPD1","αIgG/RT","αPD1/RT","αIgG/TLC","αPD1/TLC","αPD1/RT/TLC"], "range": ["#d9d9d9","#5a5a5a","#b8b8f2","#4d4de6","#d6f2df","#128a3c","#f77c7c"]}, "legend": null},
      "stroke": {"field": "g", "type": "nominal", "scale": {"domain": ["αIgG","αPD1","αIgG/RT","αPD1/RT","αIgG/TLC","αPD1/TLC","αPD1/RT/TLC"], "range": ["#000000","#000000","#1c1c80","#1c1c80","#0d5c1e","#0d5c1e","#ff1a1a"]}, "legend": null}
     }},
    {"mark": {"type": "errorbar", "extent": "stderr", "ticks": true, "size": 6, "thickness": 1.2},
     "encoding": {"x": {"field": "g", "type": "nominal"}, "y": {"field": "v", "type": "quantitative", "title": "CD8⁺ T cells (%)"},
      "color": {"field": "g", "type": "nominal", "scale": {"domain": ["αIgG","αPD1","αIgG/RT","αPD1/RT","αIgG/TLC","αPD1/TLC","αPD1/RT/TLC"], "range": ["#000000","#000000","#1c1c80","#1c1c80","#0d5c1e","#0d5c1e","#ff1a1a"]}, "legend": null}}},
    {"mark": {"type": "point", "filled": true, "fill": "white", "size": 28, "strokeWidth": 1.4, "opacity": 1},
     "encoding": {"x": {"field": "g", "type": "nominal"}, "xOffset": {"field": "r", "type": "nominal", "scale": {"domain": [1,2,3,4,5,6,7], "paddingInner": 0, "paddingOuter": 0}}, "y": {"field": "v", "type": "quantitative", "title": "CD8⁺ T cells (%)"}, "stroke": {"field": "g", "type": "nominal", "legend": null}}}
   ]},
  {"layer": [
    {"data": {"name": "brk"}, "transform": [{"filter": "datum.p === 'E'"}],
     "mark": {"type": "rule", "color": "#1a1a1a", "strokeWidth": 1},
     "encoding": {
      "x": {"field": "x1", "type": "quantitative", "scale": {"domain": [0.5, 7.5], "range": [0, 101], "nice": false, "zero": false}, "axis": {"orient": "top", "domain": false, "ticks": false, "labels": false, "grid": false, "title": "CD8⁺ T cells", "titleY": -23, "titleBaseline": "alphabetic", "titleFontSize": 12}},
      "x2": {"field": "x2"},
      "y": {"field": "y1", "type": "quantitative", "scale": {"domain": [0, 100], "nice": false, "zero": false}, "axis": {"orient": "right", "domain": false, "ticks": false, "labels": false, "grid": false, "title": "E", "titleAngle": 0, "titleX": -162.5, "titleY": -21, "titleAlign": "left", "titleBaseline": "alphabetic", "titleFontSize": 25}},
      "y2": {"field": "y2"}}},
    {"data": {"name": "txt"}, "transform": [{"filter": "datum.p === 'E'"}],
     "mark": {"type": "text", "fontSize": 11, "dy": 3, "baseline": "alphabetic", "align": "center", "color": "#1a1a1a"},
     "encoding": {"x": {"field": "x", "type": "quantitative"}, "y": {"field": "y", "type": "quantitative"}, "text": {"field": "t"}}}
  ]}
 ]},
{"width": 114.5, "height": 104, "resolve": {"scale": {"x": "independent", "y": "independent"}},
 "layer": [
  {"data": {"name": "pts"}, "transform": [{"filter": "datum.p === 'F'"}],
   "layer": [
    {"mark": {"type": "bar", "strokeWidth": 1.2},
     "encoding": {
      "x": {"field": "g", "type": "nominal", "scale": {"domain": ["αIgG","αPD1","αIgG/RT","αPD1/RT","αIgG/TLC","αPD1/TLC","αPD1/RT/TLC"], "range": [0, 101], "paddingInner": 0.3, "paddingOuter": 0.15}, "axis": {"labels": false, "title": null}},
      "y": {"aggregate": "mean", "field": "v", "type": "quantitative", "title": "CD8⁺ Tₑₘ cells (%)", "scale": {"domain": [0, 100], "nice": false}, "axis": {"values": [0,20,40,60,80,100], "labelExpr": "datum.value % 40 === 0 ? datum.label : ''", "title": "CD8⁺ Tₑₘ cells (%)", "titlePadding": 0.7}},
      "fill": {"field": "g", "type": "nominal", "scale": {"domain": ["αIgG","αPD1","αIgG/RT","αPD1/RT","αIgG/TLC","αPD1/TLC","αPD1/RT/TLC"], "range": ["#d9d9d9","#5a5a5a","#b8b8f2","#4d4de6","#d6f2df","#128a3c","#f77c7c"]}, "legend": null},
      "stroke": {"field": "g", "type": "nominal", "scale": {"domain": ["αIgG","αPD1","αIgG/RT","αPD1/RT","αIgG/TLC","αPD1/TLC","αPD1/RT/TLC"], "range": ["#000000","#000000","#1c1c80","#1c1c80","#0d5c1e","#0d5c1e","#ff1a1a"]}, "legend": null}
     }},
    {"mark": {"type": "errorbar", "extent": "stderr", "ticks": true, "size": 6, "thickness": 1.2},
     "encoding": {"x": {"field": "g", "type": "nominal"}, "y": {"field": "v", "type": "quantitative", "title": "CD8⁺ Tₑₘ cells (%)"},
      "color": {"field": "g", "type": "nominal", "scale": {"domain": ["αIgG","αPD1","αIgG/RT","αPD1/RT","αIgG/TLC","αPD1/TLC","αPD1/RT/TLC"], "range": ["#000000","#000000","#1c1c80","#1c1c80","#0d5c1e","#0d5c1e","#ff1a1a"]}, "legend": null}}},
    {"mark": {"type": "point", "filled": true, "fill": "white", "size": 28, "strokeWidth": 1.4, "opacity": 1},
     "encoding": {"x": {"field": "g", "type": "nominal"}, "xOffset": {"field": "r", "type": "nominal", "scale": {"domain": [1,2,3,4,5,6,7], "paddingInner": 0, "paddingOuter": 0}}, "y": {"field": "v", "type": "quantitative", "title": "CD8⁺ Tₑₘ cells (%)"}, "stroke": {"field": "g", "type": "nominal", "legend": null}}}
   ]},
  {"layer": [
    {"data": {"name": "brk"}, "transform": [{"filter": "datum.p === 'F'"}],
     "mark": {"type": "rule", "color": "#1a1a1a", "strokeWidth": 1},
     "encoding": {
      "x": {"field": "x1", "type": "quantitative", "scale": {"domain": [0.5, 7.5], "range": [0, 101], "nice": false, "zero": false}, "axis": {"orient": "top", "domain": false, "ticks": false, "labels": false, "grid": false, "title": "CD8⁺ Tₑₘ cells", "titleY": -23, "titleBaseline": "alphabetic", "titleFontSize": 12}},
      "x2": {"field": "x2"},
      "y": {"field": "y1", "type": "quantitative", "scale": {"domain": [0, 100], "nice": false, "zero": false}, "axis": {"orient": "right", "domain": false, "ticks": false, "labels": false, "grid": false, "title": "F", "titleAngle": 0, "titleX": -169.5, "titleY": -21, "titleAlign": "left", "titleBaseline": "alphabetic", "titleFontSize": 25}},
      "y2": {"field": "y2"}}},
    {"data": {"name": "txt"}, "transform": [{"filter": "datum.p === 'F'"}],
     "mark": {"type": "text", "fontSize": 11, "dy": 3, "baseline": "alphabetic", "align": "center", "color": "#1a1a1a"},
     "encoding": {"x": {"field": "x", "type": "quantitative"}, "y": {"field": "y", "type": "quantitative"}, "text": {"field": "t"}}}
  ]}
 ]},
{"width": 101, "height": 104, "resolve": {"scale": {"x": "independent", "y": "independent"}},
 "layer": [
  {"data": {"name": "pts"}, "transform": [{"filter": "datum.p === 'G'"}],
   "layer": [
    {"mark": {"type": "bar", "strokeWidth": 1.2},
     "encoding": {
      "x": {"field": "g", "type": "nominal", "scale": {"domain": ["αIgG","αPD1","αIgG/RT","αPD1/RT","αIgG/TLC","αPD1/TLC","αPD1/RT/TLC"], "paddingInner": 0.3, "paddingOuter": 0.15}, "axis": {"labels": false, "title": null}},
      "y": {"aggregate": "mean", "field": "v", "type": "quantitative", "title": "IFNγ⁺CD8⁺ T cells (%)", "scale": {"domain": [0, 100], "nice": false}, "axis": {"values": [0,20,40,60,80,100], "labelExpr": "datum.value % 40 === 0 ? datum.label : ''", "title": "IFNγ⁺CD8⁺ T cells (%)", "titlePadding": 1.7}},
      "fill": {"field": "g", "type": "nominal", "scale": {"domain": ["αIgG","αPD1","αIgG/RT","αPD1/RT","αIgG/TLC","αPD1/TLC","αPD1/RT/TLC"], "range": ["#d9d9d9","#5a5a5a","#b8b8f2","#4d4de6","#d6f2df","#128a3c","#f77c7c"]}, "legend": null},
      "stroke": {"field": "g", "type": "nominal", "scale": {"domain": ["αIgG","αPD1","αIgG/RT","αPD1/RT","αIgG/TLC","αPD1/TLC","αPD1/RT/TLC"], "range": ["#000000","#000000","#1c1c80","#1c1c80","#0d5c1e","#0d5c1e","#ff1a1a"]}, "legend": null}
     }},
    {"mark": {"type": "errorbar", "extent": "stderr", "ticks": true, "size": 6, "thickness": 1.2},
     "encoding": {"x": {"field": "g", "type": "nominal"}, "y": {"field": "v", "type": "quantitative", "title": "IFNγ⁺CD8⁺ T cells (%)"},
      "color": {"field": "g", "type": "nominal", "scale": {"domain": ["αIgG","αPD1","αIgG/RT","αPD1/RT","αIgG/TLC","αPD1/TLC","αPD1/RT/TLC"], "range": ["#000000","#000000","#1c1c80","#1c1c80","#0d5c1e","#0d5c1e","#ff1a1a"]}, "legend": null}}},
    {"mark": {"type": "point", "filled": true, "fill": "white", "size": 28, "strokeWidth": 1.4, "opacity": 1},
     "encoding": {"x": {"field": "g", "type": "nominal"}, "xOffset": {"field": "r", "type": "nominal", "scale": {"domain": [1,2,3,4,5,6,7], "paddingInner": 0, "paddingOuter": 0}}, "y": {"field": "v", "type": "quantitative", "title": "IFNγ⁺CD8⁺ T cells (%)"}, "stroke": {"field": "g", "type": "nominal", "legend": null}}}
   ]},
  {"layer": [
    {"data": {"name": "brk"}, "transform": [{"filter": "datum.p === 'G'"}],
     "mark": {"type": "rule", "color": "#1a1a1a", "strokeWidth": 1},
     "encoding": {
      "x": {"field": "x1", "type": "quantitative", "scale": {"domain": [0.5, 7.5], "nice": false, "zero": false}, "axis": {"orient": "top", "domain": false, "ticks": false, "labels": false, "grid": false, "title": "IFNγ⁺CD8⁺ T cells", "titleY": -23, "titleBaseline": "alphabetic", "titleFontSize": 12}},
      "x2": {"field": "x2"},
      "y": {"field": "y1", "type": "quantitative", "scale": {"domain": [0, 100], "nice": false, "zero": false}, "axis": {"orient": "right", "domain": false, "ticks": false, "labels": false, "grid": false, "title": "G", "titleAngle": 0, "titleX": -157, "titleY": -21, "titleAlign": "left", "titleBaseline": "alphabetic", "titleFontSize": 25}},
      "y2": {"field": "y2"}}},
    {"data": {"name": "txt"}, "transform": [{"filter": "datum.p === 'G'"}],
     "mark": {"type": "text", "fontSize": 11, "dy": 3, "baseline": "alphabetic", "align": "center", "color": "#1a1a1a"},
     "encoding": {"x": {"field": "x", "type": "quantitative"}, "y": {"field": "y", "type": "quantitative"}, "text": {"field": "t"}}}
  ]}
 ]},
{"width": 101, "height": 104, "resolve": {"scale": {"x": "independent", "y": "independent"}},
 "layer": [
  {"data": {"name": "pts"}, "transform": [{"filter": "datum.p === 'H'"}],
   "layer": [
    {"mark": {"type": "bar", "strokeWidth": 1.2},
     "encoding": {
      "x": {"field": "g", "type": "nominal", "scale": {"domain": ["αIgG","αPD1","αIgG/RT","αPD1/RT","αIgG/TLC","αPD1/TLC","αPD1/RT/TLC"], "paddingInner": 0.3, "paddingOuter": 0.15}, "axis": {"labels": false, "title": null}},
      "y": {"aggregate": "mean", "field": "v", "type": "quantitative", "title": "IFNγ⁺NK cells (%)", "scale": {"domain": [0, 100], "nice": false}, "axis": {"values": [0,20,40,60,80,100], "labelExpr": "datum.value % 40 === 0 ? datum.label : ''", "title": "IFNγ⁺NK cells (%)", "titlePadding": 1.7}},
      "fill": {"field": "g", "type": "nominal", "scale": {"domain": ["αIgG","αPD1","αIgG/RT","αPD1/RT","αIgG/TLC","αPD1/TLC","αPD1/RT/TLC"], "range": ["#d9d9d9","#5a5a5a","#b8b8f2","#4d4de6","#d6f2df","#128a3c","#f77c7c"]}, "legend": null},
      "stroke": {"field": "g", "type": "nominal", "scale": {"domain": ["αIgG","αPD1","αIgG/RT","αPD1/RT","αIgG/TLC","αPD1/TLC","αPD1/RT/TLC"], "range": ["#000000","#000000","#1c1c80","#1c1c80","#0d5c1e","#0d5c1e","#ff1a1a"]}, "legend": null}
     }},
    {"mark": {"type": "errorbar", "extent": "stderr", "ticks": true, "size": 6, "thickness": 1.2},
     "encoding": {"x": {"field": "g", "type": "nominal"}, "y": {"field": "v", "type": "quantitative", "title": "IFNγ⁺NK cells (%)"},
      "color": {"field": "g", "type": "nominal", "scale": {"domain": ["αIgG","αPD1","αIgG/RT","αPD1/RT","αIgG/TLC","αPD1/TLC","αPD1/RT/TLC"], "range": ["#000000","#000000","#1c1c80","#1c1c80","#0d5c1e","#0d5c1e","#ff1a1a"]}, "legend": null}}},
    {"mark": {"type": "point", "filled": true, "fill": "white", "size": 28, "strokeWidth": 1.4, "opacity": 1},
     "encoding": {"x": {"field": "g", "type": "nominal"}, "xOffset": {"field": "r", "type": "nominal", "scale": {"domain": [1,2,3,4,5,6,7], "paddingInner": 0, "paddingOuter": 0}}, "y": {"field": "v", "type": "quantitative", "title": "IFNγ⁺NK cells (%)"}, "stroke": {"field": "g", "type": "nominal", "legend": null}}}
   ]},
  {"layer": [
    {"data": {"name": "brk"}, "transform": [{"filter": "datum.p === 'H'"}],
     "mark": {"type": "rule", "color": "#1a1a1a", "strokeWidth": 1},
     "encoding": {
      "x": {"field": "x1", "type": "quantitative", "scale": {"domain": [0.5, 7.5], "nice": false, "zero": false}, "axis": {"orient": "top", "domain": false, "ticks": false, "labels": false, "grid": false, "title": "IFNγ⁺NK cells", "titleY": -23, "titleBaseline": "alphabetic", "titleFontSize": 12}},
      "x2": {"field": "x2"},
      "y": {"field": "y1", "type": "quantitative", "scale": {"domain": [0, 100], "nice": false, "zero": false}, "axis": {"orient": "right", "domain": false, "ticks": false, "labels": false, "grid": false, "title": "H", "titleAngle": 0, "titleX": -133, "titleY": -21, "titleAlign": "left", "titleBaseline": "alphabetic", "titleFontSize": 25}},
      "y2": {"field": "y2"}}},
    {"data": {"name": "txt"}, "transform": [{"filter": "datum.p === 'H'"}],
     "mark": {"type": "text", "fontSize": 11, "dy": 3, "baseline": "alphabetic", "align": "center", "color": "#1a1a1a"},
     "encoding": {"x": {"field": "x", "type": "quantitative"}, "y": {"field": "y", "type": "quantitative"}, "text": {"field": "t"}}}
  ]}
 ]},
{"width": 101, "height": 113, "resolve": {"scale": {"x": "independent", "y": "independent"}},
 "layer": [
  {"data": {"name": "pts"}, "transform": [{"filter": "datum.p === 'I'"}],
   "layer": [
    {"mark": {"type": "bar", "strokeWidth": 1.2},
     "encoding": {
      "x": {"field": "g", "type": "nominal", "scale": {"domain": ["αIgG","αPD1","αIgG/RT","αPD1/RT","αIgG/TLC","αPD1/TLC","αPD1/RT/TLC"], "paddingInner": 0.3, "paddingOuter": 0.15}, "axis": {"labels": false, "title": null}},
      "y": {"aggregate": "mean", "field": "v", "type": "quantitative", "title": "Foxp3⁺ Treg cells (%)", "scale": {"domain": [0, 6], "range": [113, 10], "nice": false}, "axis": {"values": [0,1,2,3,4,5,6], "labelExpr": "datum.value % 2 === 0 && datum.value < 6 ? datum.label : ''", "title": "Foxp3⁺ Treg cells (%)", "titlePadding": 6}},
      "fill": {"field": "g", "type": "nominal", "scale": {"domain": ["αIgG","αPD1","αIgG/RT","αPD1/RT","αIgG/TLC","αPD1/TLC","αPD1/RT/TLC"], "range": ["#d9d9d9","#5a5a5a","#b8b8f2","#4d4de6","#d6f2df","#128a3c","#f77c7c"]},
       "legend": {"orient": "none", "legendX": 129.5, "legendY": 4.5, "title": null, "symbolType": "M-1,-0.4H1V0.4H-1Z", "symbolSize": 169, "symbolStrokeWidth": 1.2, "labelFontSize": 10, "labelFont": "Liberation Sans", "labelColor": "#000", "rowPadding": 1, "labelOffset": 3, "padding": 0}},
      "stroke": {"field": "g", "type": "nominal", "scale": {"domain": ["αIgG","αPD1","αIgG/RT","αPD1/RT","αIgG/TLC","αPD1/TLC","αPD1/RT/TLC"], "range": ["#000000","#000000","#1c1c80","#1c1c80","#0d5c1e","#0d5c1e","#ff1a1a"]},
       "legend": {"orient": "none", "legendX": 129.5, "legendY": 4.5, "title": null, "symbolType": "M-1,-0.4H1V0.4H-1Z", "symbolSize": 169, "symbolStrokeWidth": 1.2, "labelFontSize": 10, "labelFont": "Liberation Sans", "labelColor": "#000", "rowPadding": 1, "labelOffset": 3, "padding": 0}}
     }},
    {"mark": {"type": "errorbar", "extent": "stderr", "ticks": true, "size": 6, "thickness": 1.2},
     "encoding": {"x": {"field": "g", "type": "nominal"}, "y": {"field": "v", "type": "quantitative", "title": "Foxp3⁺ Treg cells (%)"},
      "color": {"field": "g", "type": "nominal", "scale": {"domain": ["αIgG","αPD1","αIgG/RT","αPD1/RT","αIgG/TLC","αPD1/TLC","αPD1/RT/TLC"], "range": ["#000000","#000000","#1c1c80","#1c1c80","#0d5c1e","#0d5c1e","#ff1a1a"]}, "legend": null}}},
    {"mark": {"type": "point", "filled": true, "fill": "white", "size": 28, "strokeWidth": 1.4, "opacity": 1},
     "encoding": {"x": {"field": "g", "type": "nominal"}, "xOffset": {"field": "r", "type": "nominal", "scale": {"domain": [1,2,3,4,5,6,7], "paddingInner": 0, "paddingOuter": 0}}, "y": {"field": "v", "type": "quantitative", "title": "Foxp3⁺ Treg cells (%)"}, "stroke": {"field": "g", "type": "nominal"}}}
   ]},
  {"data": {"name": "brk"}, "transform": [{"filter": "datum.p === 'I'"}],
   "mark": {"type": "rule", "color": "#1a1a1a", "strokeWidth": 1},
   "encoding": {
    "x": {"field": "x1", "type": "quantitative", "scale": {"domain": [0.5, 7.5], "nice": false, "zero": false}, "axis": {"orient": "top", "domain": false, "ticks": false, "labels": false, "grid": false, "title": "Foxp3⁺ Treg cells", "titleY": -14, "titleBaseline": "alphabetic", "titleFontSize": 12}},
    "x2": {"field": "x2"},
    "y": {"field": "y1", "type": "quantitative", "scale": {"domain": [0, 6], "range": [113, 10], "nice": false, "zero": false}, "axis": {"orient": "right", "domain": false, "ticks": false, "labels": false, "grid": false, "title": "I", "titleAngle": 0, "titleX": -145, "titleY": -23, "titleAlign": "left", "titleBaseline": "alphabetic", "titleFontSize": 25}},
    "y2": {"field": "y2"}}}
 ]}
],
"config": {
 "view": {"stroke": null},
 "font": "Liberation Sans",
 "axis": {"domainColor": "#000", "tickColor": "#000", "labelColor": "#000", "titleColor": "#000", "grid": false, "labelFont": "Liberation Sans", "titleFont": "Liberation Sans", "labelFontSize": 11.5, "titleFontSize": 11, "titleFontWeight": "normal", "tickSize": 4, "domainWidth": 1, "tickWidth": 1, "labelPadding": 2},
 "text": {"font": "Liberation Sans"}
}
}
